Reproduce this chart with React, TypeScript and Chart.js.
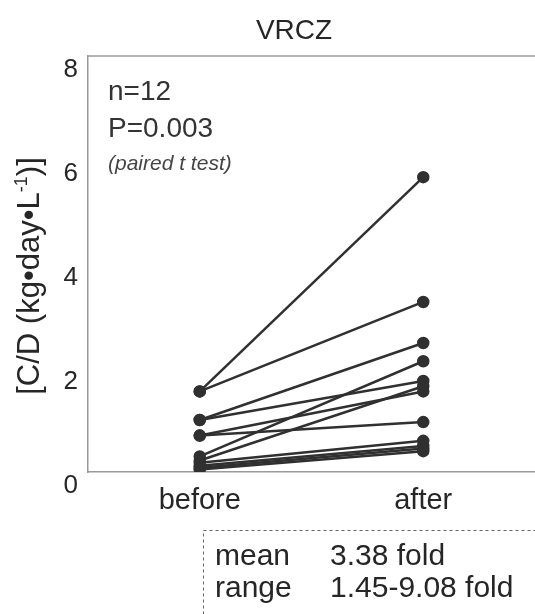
import React, { useEffect, useRef } from "react";
import { Chart, registerables } from "chart.js";

Chart.register(...registerables);

const categories = ["before", "after"];
const beforeValues = [1.55, 1.55, 1.0, 1.0, 0.7, 0.7, 0.3, 0.22, 0.18, 0.12, 0.08, 0.05];
const afterValues = [5.67, 3.27, 2.48, 1.75, 0.96, 1.55, 2.13, 1.65, 0.6, 0.5, 0.45, 0.4];
const yMin = 0;
const yMax = 8;
const yStep = 2;
const titleText = "VRCZ";
const yTitleMain = "[C/D (kg\u2022day\u2022L";
const yTitleSup = "-1";
const yTitleEnd = ")]";
const statLines = ["n=12", "P=0.003"];
const testLabel = "(paired t test)";
const summaryLabels = ["mean", "range"];
const summaryValues = ["3.38 fold", "1.45-9.08 fold"];

const FONT = '"Liberation Sans", Arial, sans-serif';
const TEXT = "#262626";
const LINE = "#303030";
const AXIS = "#9a9a9a";

const decorPlugin = {
  id: "decor",
  afterDraw(chart: any) {
    const ctx = chart.ctx as CanvasRenderingContext2D;
    const { left, top, right } = chart.chartArea;
    ctx.save();
    // top frame line
    ctx.strokeStyle = AXIS;
    ctx.lineWidth = 1.5;
    ctx.beginPath();
    ctx.moveTo(left, top);
    ctx.lineTo(right, top);
    ctx.stroke();

    // title
    ctx.fillStyle = TEXT;
    ctx.textAlign = "center";
    ctx.textBaseline = "alphabetic";
    ctx.font = `28px ${FONT}`;
    ctx.fillText(titleText, 294, 39);

    // y-axis title (rotated)
    ctx.save();
    ctx.translate(39, 276);
    ctx.rotate(-Math.PI / 2);
    ctx.textAlign = "left";
    const mainFont = `31px ${FONT}`;
    const supFont = `18px ${FONT}`;
    ctx.font = mainFont;
    const w1 = ctx.measureText(yTitleMain).width;
    const w3 = ctx.measureText(yTitleEnd).width;
    ctx.font = supFont;
    const w2 = ctx.measureText(yTitleSup).width;
    const total = w1 + w2 + w3;
    let x = -total / 2;
    ctx.font = mainFont;
    ctx.fillText(yTitleMain, x, 0);
    x += w1;
    ctx.font = supFont;
    ctx.fillText(yTitleSup, x, -12);
    x += w2;
    ctx.font = mainFont;
    ctx.fillText(yTitleEnd, x, 0);
    ctx.restore();

    // stats annotation
    ctx.textAlign = "left";
    ctx.fillStyle = "#333";
    ctx.font = `28px ${FONT}`;
    ctx.fillText(statLines[0], 108, 100);
    ctx.fillText(statLines[1], 108, 137);
    ctx.font = `italic 21px ${FONT}`;
    ctx.fillStyle = "#444";
    ctx.fillText(testLabel, 108, 170);

    // summary dashed box
    ctx.strokeStyle = "#666";
    ctx.lineWidth = 1;
    ctx.setLineDash([3, 3]);
    ctx.strokeRect(203.5, 530.5, 400, 200);
    ctx.setLineDash([]);
    ctx.fillStyle = TEXT;
    ctx.font = `30px ${FONT}`;
    ctx.fillText(summaryLabels[0], 215, 565);
    ctx.fillText(summaryValues[0], 330, 565);
    ctx.fillText(summaryLabels[1], 215, 597);
    ctx.fillText(summaryValues[1], 330, 597);
    ctx.restore();
  },
};

export default function App() {
  const ref = useRef<HTMLCanvasElement | null>(null);

  useEffect(() => {
    if (!ref.current) return;
    const datasets = beforeValues.map((b, i) => ({
      label: `subject ${i + 1}`,
      data: [b, afterValues[i]],
      borderColor: LINE,
      backgroundColor: LINE,
      pointBackgroundColor: LINE,
      pointBorderColor: LINE,
      borderWidth: 2.5,
      pointRadius: 5,
      pointHoverRadius: 5,
      tension: 0,
    }));
    const chart = new Chart(ref.current, {
      type: "line",
      data: { labels: categories, datasets },
      plugins: [decorPlugin],
      options: {
        animation: false,
        responsive: false,
        devicePixelRatio: 1,
        layout: { autoPadding: false, padding: { top: 56, right: 0, left: 0, bottom: 0 } },
        plugins: {
          legend: { display: false },
          tooltip: { enabled: false },
          title: { display: false },
        },
        scales: {
          x: {
            type: "category",
            offset: true,
            grid: { display: false, drawTicks: false },
            border: { display: true, color: AXIS, width: 1.5 },
            ticks: {
              color: TEXT,
              padding: 12,
              font: { family: FONT, size: 29 },
              maxRotation: 0,
            },
            afterFit: (scale: any) => {
              scale.height = 142;
            },
          },
          y: {
            min: yMin,
            max: yMax,
            grid: { display: false, drawTicks: false },
            border: { display: true, color: AXIS, width: 1.5 },
            ticks: {
              stepSize: yStep,
              color: TEXT,
              padding: 10,
              labelOffset: 14,
              font: { family: FONT, size: 26 },
            },
            afterFit: (scale: any) => {
              scale.width = 88;
            },
          },
        },
      },
    });
    return () => chart.destroy();
  }, []);

  return (
    <div style={{ position: "absolute", left: 0, top: 0, width: 535, height: 614, background: "#fff" }}>
      <canvas ref={ref} width={535} height={614} />
    </div>
  );
}
